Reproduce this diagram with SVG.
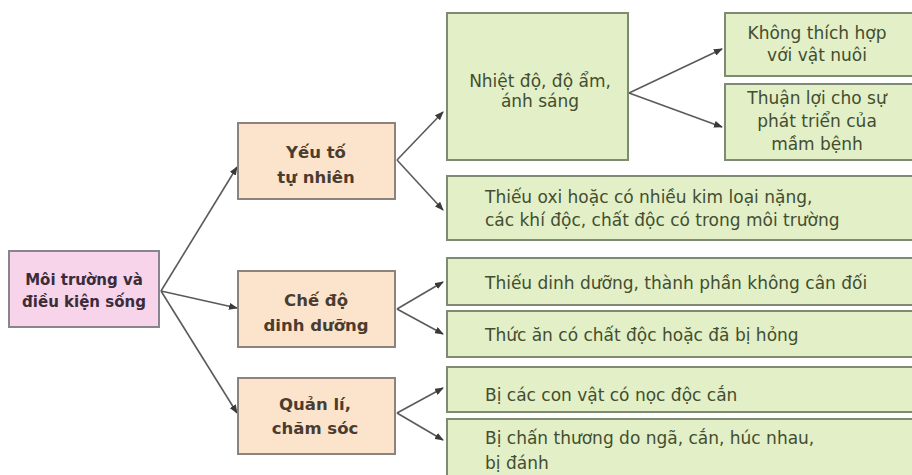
<svg xmlns="http://www.w3.org/2000/svg" width="912" height="475" viewBox="0 0 912 475">
<defs>
<marker id="ah" markerUnits="userSpaceOnUse" markerWidth="9" markerHeight="7" refX="8" refY="3.5" orient="auto">
<path d="M0,0 L9,3.5 L0,7 z" fill="#3a3a3a"/>
</marker>
<style>
.root{fill:#f8d4ea;stroke:#8a8490;stroke-width:2}
.mid{fill:#fce4cc;stroke:#8c847c;stroke-width:2}
.leaf{fill:#e2efc7;stroke:#7f8a72;stroke-width:2}
.tr{font-family:"DejaVu Sans",sans-serif;font-weight:bold;font-size:15px;fill:#3a2c3a;text-anchor:middle}
.tm{font-family:"DejaVu Sans",sans-serif;font-weight:bold;font-size:16.5px;fill:#4a3c30;text-anchor:middle}
.tl{font-family:"DejaVu Sans",sans-serif;font-size:17px;fill:#434e30}
.tc{text-anchor:middle}
.c{fill:none;stroke:#5a5a5a;stroke-width:1.6;marker-end:url(#ah)}
</style>
</defs>
<rect width="912" height="475" fill="#ffffff"/>
<g id="connectors">
<line class="c" x1="161" y1="291" x2="237" y2="167"/>
<line class="c" x1="161" y1="291" x2="237" y2="308"/>
<line class="c" x1="161" y1="291" x2="237" y2="413"/>
<line class="c" x1="397" y1="160" x2="443" y2="112"/>
<line class="c" x1="397" y1="160" x2="443" y2="210"/>
<line class="c" x1="397" y1="309" x2="443" y2="282"/>
<line class="c" x1="397" y1="309" x2="443" y2="334"/>
<line class="c" x1="397" y1="413" x2="443" y2="388"/>
<line class="c" x1="397" y1="413" x2="443" y2="440"/>
<line class="c" x1="629" y1="93" x2="722" y2="49"/>
<line class="c" x1="629" y1="93" x2="722" y2="127"/>
</g>
<g id="root">
<rect class="root" x="9" y="251" width="150" height="76"/>
<text class="tr" x="84" y="285">Môi trường và</text>
<text class="tr" x="84" y="307">điều kiện sống</text>
</g>
<g id="yeuto">
<rect class="mid" x="238" y="123" width="157" height="76"/>
<text class="tm" x="316" y="158">Yếu tố</text>
<text class="tm" x="316" y="183">tự nhiên</text>
</g>
<g id="chedo">
<rect class="mid" x="238" y="271" width="157" height="76"/>
<text class="tm" x="316" y="306">Chế độ</text>
<text class="tm" x="316" y="331">dinh dưỡng</text>
</g>
<g id="quanli">
<rect class="mid" x="238" y="378" width="157" height="76"/>
<text class="tm" x="315" y="410">Quản lí,</text>
<text class="tm" x="315" y="434">chăm sóc</text>
</g>
<g id="nhietdo">
<rect class="leaf" x="447" y="13" width="181" height="147"/>
<text class="tl tc" x="540" y="87">Nhiệt độ, độ ẩm,</text>
<text class="tl tc" x="540" y="107">ánh sáng</text>
</g>
<g id="khongthichhop">
<rect class="leaf" x="725" y="13" width="190" height="63"/>
<text class="tl tc" x="817" y="39">Không thích hợp</text>
<text class="tl tc" x="817" y="61">với vật nuôi</text>
</g>
<g id="thuanloi">
<rect class="leaf" x="725" y="84" width="190" height="76"/>
<text class="tl tc" x="817" y="104">Thuận lợi cho sự</text>
<text class="tl tc" x="817" y="127">phát triển của</text>
<text class="tl tc" x="817" y="150">mầm bệnh</text>
</g>
<g id="thieuoxi">
<rect class="leaf" x="447" y="176" width="468" height="64"/>
<text class="tl" x="485" y="203">Thiếu oxi hoặc có nhiều kim loại nặng,</text>
<text class="tl" x="485" y="226">các khí độc, chất độc có trong môi trường</text>
</g>
<g id="thieudinhduong">
<rect class="leaf" x="447" y="258" width="468" height="47"/>
<text class="tl" x="485" y="289">Thiếu dinh dưỡng, thành phần không cân đối</text>
</g>
<g id="thucan">
<rect class="leaf" x="447" y="311" width="468" height="46"/>
<text class="tl" x="485" y="341">Thức ăn có chất độc hoặc đã bị hỏng</text>
</g>
<g id="bicac">
<rect class="leaf" x="447" y="367" width="468" height="45"/>
<text class="tl" x="485" y="401">Bị các con vật có nọc độc cắn</text>
</g>
<g id="bichanthuong">
<rect class="leaf" x="447" y="419" width="468" height="60"/>
<text class="tl" x="485" y="444">Bị chấn thương do ngã, cắn, húc nhau,</text>
<text class="tl" x="485" y="469">bị đánh</text>
</g>
</svg>
